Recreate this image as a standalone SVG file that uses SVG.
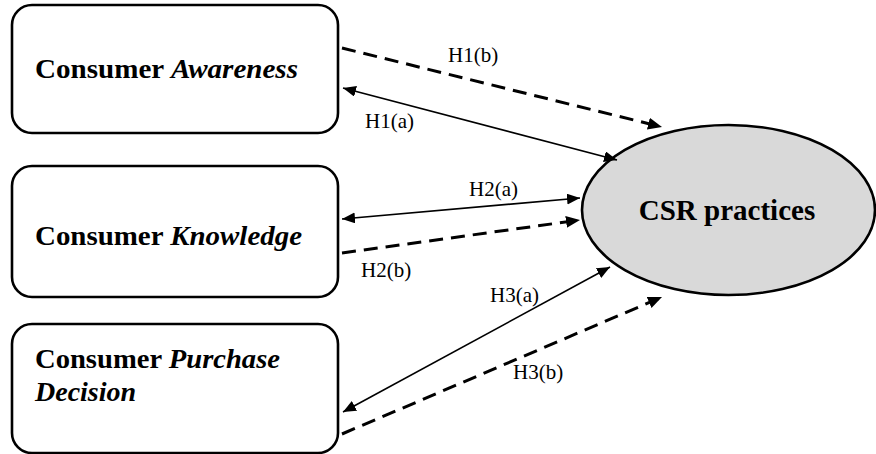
<svg xmlns="http://www.w3.org/2000/svg" width="876" height="454" viewBox="0 0 876 454">
<style>
.box{fill:#fff;stroke:#000;stroke-width:2.6}
.ell{fill:#d9d9d9;stroke:#000;stroke-width:2.6}
.nt{font-size:28px;font-weight:bold;fill:#000}
.it{font-style:italic}
.lbl{font-size:21px;fill:#000}
.solid{stroke:#000;stroke-width:1.6;fill:none}
.dash{stroke:#000;stroke-width:3;fill:none;stroke-dasharray:14 8}
</style>
<defs>
<marker id="ah" markerUnits="userSpaceOnUse" markerWidth="14" markerHeight="12" refX="13" refY="5.5" orient="auto-start-reverse">
<path d="M0,0 L13,5.5 L0,11 Z" fill="#000"/>
</marker>
<marker id="ahd" markerUnits="userSpaceOnUse" markerWidth="15" markerHeight="13" refX="14" refY="6" orient="auto">
<path d="M0,0 L14,6 L0,12 Z" fill="#000"/>
</marker>
</defs>
<g font-family="Liberation Serif, Tinos, DejaVu Serif, serif">
<g id="awareness">
<rect class="box" x="12" y="5" width="326" height="128" rx="20"/>
<text class="nt" x="35" y="78" textLength="263" lengthAdjust="spacingAndGlyphs">Consumer <tspan class="it">Awareness</tspan></text>
</g>
<g id="knowledge">
<rect class="box" x="12" y="166" width="326" height="131" rx="20"/>
<text class="nt" x="35" y="245" textLength="267" lengthAdjust="spacingAndGlyphs">Consumer <tspan class="it">Knowledge</tspan></text>
</g>
<g id="purchase">
<rect class="box" x="12" y="324" width="326" height="129" rx="20"/>
<text class="nt" x="35" y="368" textLength="245" lengthAdjust="spacingAndGlyphs">Consumer <tspan class="it">Purchase</tspan></text>
<text class="nt it" x="35" y="401">Decision</text>
</g>
<g id="csr">
<ellipse class="ell" cx="728.5" cy="210" rx="146.5" ry="85"/>
<text class="nt" x="727" y="220" style="font-size:29px" text-anchor="middle">CSR practices</text>
</g>
<g id="connectors">
<line class="dash" x1="342" y1="48" x2="662" y2="127" marker-end="url(#ahd)"/>
<line class="solid" x1="343" y1="88" x2="617" y2="160" marker-start="url(#ah)" marker-end="url(#ah)"/>
<line class="solid" x1="342" y1="219" x2="580" y2="198" marker-start="url(#ah)" marker-end="url(#ah)"/>
<line class="dash" x1="342" y1="253" x2="580" y2="220" marker-end="url(#ahd)"/>
<line class="solid" x1="610" y1="267" x2="343" y2="412" marker-start="url(#ah)" marker-end="url(#ah)"/>
<line class="dash" x1="342" y1="434" x2="662" y2="297" marker-end="url(#ahd)"/>
</g>
<g id="labels">
<text class="lbl" x="448" y="62">H1(b)</text>
<text class="lbl" x="365" y="128">H1(a)</text>
<text class="lbl" x="469" y="196">H2(a)</text>
<text class="lbl" x="361" y="277">H2(b)</text>
<text class="lbl" x="490" y="302">H3(a)</text>
<text class="lbl" x="513" y="379">H3(b)</text>
</g>
</g>
</svg>
